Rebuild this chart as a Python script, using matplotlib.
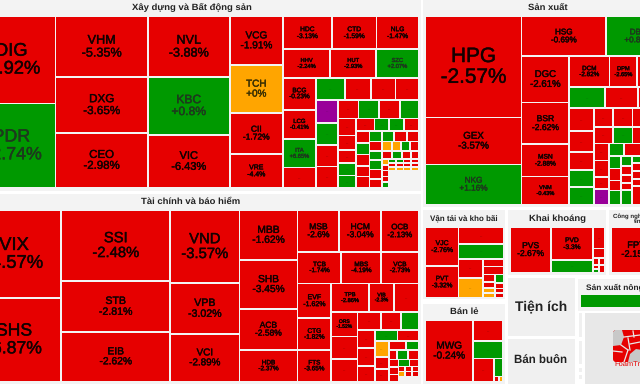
import matplotlib
matplotlib.use('Agg')
import matplotlib.pyplot as plt
import matplotlib.patheffects as pe
from matplotlib.patches import Rectangle, FancyBboxPatch, Polygon

plt.rcParams['font.family'] = ['Liberation Sans', 'DejaVu Sans']
plt.rcParams['text.hinting'] = 'no_hinting'

# Xay dung: nested cell areas, columns then rows in turn
build_tail = [[40, 40, 40, 40, 40],
              [[29, 29, 29, 29], [29, 29, 29, 29], [29, 29, 29, 29], 520]]
build_tail = [[99, 81, 81, 81], [88, 80, 72, 64], build_tail]
build_tail = [[114, 114, 114, 114, 114], build_tail]
build_tail = [[130, 120, 130, 120], build_tail]
build_tail = [[156, 150, 150, 143, 150], build_tail]
build_tail = [[231, 188, 188, 181], build_tail]
build_tail = [[306, 270, 234, 225, 225], build_tail]
build_tail = [[380, 388, 388, 342], build_tail]
build_tail = [[506, 484, 484, 473], build_tail]
build_tail = [[638, 572, 550, 506], build_tail]
build_tail = [[1056, 974, 940, 677], build_tail]
build_sizes = [
    [7700, 7478],
    [5566, 5152, 5060],
    [4961, 4756, 4346],
    [2570, 2544, 2173, 1802],
    [[1592, 1462, 1365], [1354, 1311, 1211], build_tail],
]
build_names = ['DIG', 'PDR', 'VHM', 'DXG', 'CEO', 'NVL', 'KBC', 'VIC', 'VCG', 'TCH', 'CII', 'VRE',
               'HDC', 'CTD', 'NLG', 'HHV', 'HUT', 'SZC', 'BCG', 'LCG', 'ITA']
build_change = [-6.92, 2.74, -5.35, -3.65, -2.98, -3.88, 0.8, -6.43, -1.91, 0, -1.72, -4.4,
                -3.13, -1.59, -1.47, -2.24, -2.93, 2.07, -0.23, -0.41, 6.65]
build_rest = 'r' 'grrr' 'pgrr' 'rgrg' 'rrrgg' 'rggr' 'rgrrr' 'ggrr' 'rggrr' 'oogr' 'rgrr' 'orrrg' 'ggrr' 'rrrr' 'oooo' 'n'

# Tai chinh
fin_tail = [[72, 72, 68], [[77, 63], [33, 33, 34], [33, 33, 34], 100]]
fin_tail = [[153, 110], [72, 99, 99], fin_tail]
fin_tail = [[224, 175, 175], fin_tail]
fin_tail = [[258, 237], fin_tail]
fin_tail = [[306, 306, 272], fin_tail]
fin_tail = [[432, 360, 324], fin_tail]
fin_tail = [[650, 598, 585], fin_tail]
fin_tail = [[1064, 714, 686], fin_tail]
fin_tail = [[1172, 1072, 1055], fin_tail]
fin_sizes = [
    [8225, 7849],
    [7685, 5559, 5396],
    [5002, 3519, 3278],
    [2871, 2842, 2378, 1827],
    [[1722, 1722, 1538], [1386, 1260, 1181], fin_tail],
]
fin_names = ['VIX', 'SHS', 'SSI', 'STB', 'EIB', 'VND', 'VPB', 'VCI', 'MBB', 'SHB', 'ACB', 'HDB',
             'MSB', 'HCM', 'OCB', 'TCB', 'MBS', 'VCB', 'EVF', 'CTG', 'FTS', 'TPB', 'VIB', '...', 'ORS']
fin_change = [-4.57, -6.87, -2.48, -2.81, -2.62, -3.57, -3.02, -2.89, -1.62, -3.45, -2.58, -2.37,
              -2.6, -3.04, -2.13, -1.74, -4.19, -2.73, -1.62, -1.82, -3.65, -2.86, -2.3, None, -1.52]
fin_rest = 'r' 'rr' 'rrg' 'rrr' 'gr' 'orr' 'rg' 'rgr' 'rrr' 'gr' 'rrr' 'orr' 'n'

# San xuat
prod_tail = [[150, 144, 120, 168], [110, 99, 88, 77, 160], [270, 308, 308, 270, 712]]
prod_tail = [[188, 581], prod_tail]
prod_tail = [[255, 240, 180, 232], prod_tail]
prod_tail = [[352, 361, 703], [314, 322, 627], prod_tail]
prod_tail = [[575, 525, 450, 425, 438], prod_tail]
prod_tail = [[1256, 853, 1039], [756, 693, 683], prod_tail]
prod_tail = [[2209, 1971, 1544, 1330], prod_tail]
prod_sizes = [
    [9696, 4512, 3840],
    [[3338, 2548], prod_tail],
]
prod_names = ['HPG', 'GEX', 'NKG', 'HSG', 'DBC', 'DGC', 'BSR', 'MSN', 'VNM', 'DCM', 'DPM']
prod_change = [-2.57, -3.57, 1.16, -0.69, 0.85, -2.61, -2.62, -2.88, -0.43, -2.82, -2.65]
prod_rest = 'r' 'grr' 'rrrgg' 'rrr' 'rgr' 'rrrp' 'gr' 'grrg' 'grrrg' 'grrrr'

# Van tai, ban le, khai khoang and the small groups
trans_sizes = [
    [1270, 1056],
    [743, 653,
     [[468, 480],
      [158, 168,
       [[90, 72, 60, 60], [68, 50, 40, 40]]]]],
]
trans_names = ['VJC', 'PVT']
trans_change = [-2.76, -3.32]
trans_rest = 'rgrorr' 'rroo' 'grrr'

retail_sizes = [
    [2898],
    [615, 525, [483, [162, [25, 20]]]],
]
retail_names = ['MWG']
retail_change = [-0.24]
retail_rest = 'rgrgro'

mine_sizes = [
    [1800],
    [1365, 525],
    [250, 110, [[42, 24, 21], [42, 45]]],
]
mine_names = ['PVS', 'PVD']
mine_change = [-2.67, -3.3]
mine_rest = 'grrrrgrrn'

tech_sizes = [[2475]]
tech_names = ['FPT']
tech_change = [-2.15]
agri_sizes = [[1170]]
agri_rest = 'g'

panel_titles = ['Xây dựng và Bất động sản', 'Tài chính và báo hiểm', 'Sản xuất', 'Vận tải và kho bãi',
                'Bán lẻ', 'Khai khoáng', 'Công nghệ thông\ntin', 'Sản xuất nông nghiệp']

COLORS = {'r': '#e60000', 'g': '#009900', 'o': '#ffa500', 'p': '#990099'}
INK = {'r': '#140000', 'g': '#1d3a1d', 'o': '#3a3000', 'p': '#3a1a3a'}

fig = plt.figure(figsize=(6.4, 3.84), dpi=100, facecolor='white')
ax = fig.add_axes([0, 0, 1, 1])
ax.set_xlim(0, 640)
ax.set_ylim(384, 0)
ax.axis('off')


def total(node):
    if isinstance(node, list):
        return sum(total(n) for n in node)
    return node


def walk(node, x0, y0, x1, y1, across, out):
    if not isinstance(node, list):
        out.append((node, x0, y0, x1, y1))
        return
    tot = total(node)
    pos = x0 if across else y0
    for child in node:
        share = total(child) / tot
        if across:
            nxt = pos + (x1 - x0) * share
            walk(child, pos, y0, nxt, y1, False, out)
        else:
            nxt = pos + (y1 - y0) * share
            walk(child, x0, pos, x1, nxt, True, out)
        pos = nxt


def draw_cells(sizes, box, names, change, rest):
    cells = []
    walk(sizes, box[0], box[1], box[2], box[3], True, cells)
    k = 0
    for i, (a, x0, y0, x1, y1) in enumerate(cells):
        if i < len(names) and names[i] != '...':
            v = change[i]
            c = 'o' if v == 0 else ('r' if v < 0 else 'g')
            label = names[i] + '\n' + f'{v:+g}%'
        else:
            c = rest[k] if k < len(rest) else 'n'
            k += 1
            label = '...'
        if c == 'n':
            continue
        w, h = x1 - x0 - 1.7, y1 - y0 - 1.7
        ax.add_patch(Rectangle((x0 + 0.85, y0 + 0.85), w, h, fc=COLORS[c], ec='none'))
        fs = min(0.215 * h, 0.22 * w) * 0.72
        if label == '...':
            if w * h > 130:
                ax.text((x0 + x1) / 2, (y0 + y1) / 2, '...', fontsize=max(fs * 0.7, 3), color=INK[c],
                        alpha=0.7, ha='center', va='center')
        else:
            ax.text((x0 + x1) / 2, (y0 + y1) / 2, label, fontsize=fs, color=INK[c], ha='center',
                    va='center', linespacing=1.08,
                    path_effects=[pe.withStroke(linewidth=0.3, foreground=INK[c])])


def panel(x0, y0, x1, y1, fc='#f3f3f3'):
    ax.add_patch(Rectangle((x0, y0), x1 - x0, y1 - y0, fc=fc, ec='none'))


panel(-37, 0, 421, 191)
panel(-37, 194, 421, 384)
panel(423, 0, 673, 207)
panel(423, 210, 505, 299)
panel(423, 304, 505, 384)
panel(508, 210, 606, 275)
panel(609, 210, 669, 275)
panel(508, 278, 575, 336, '#f0f0f0')
panel(508, 339, 575, 384, '#f0f0f0')
panel(578, 279, 673, 311)
panel(579, 313, 582, 337, '#f0f0f0')
panel(579, 341, 582, 364, '#f0f0f0')
panel(579, 368, 582, 372, '#f0f0f0')
panel(579, 375, 582, 379, '#f0f0f0')
panel(585, 313, 673, 384, '#e8e8e8')

draw_cells(build_sizes, (-33, 16.5, 418.5, 188), build_names, build_change, build_rest)
draw_cells(fin_sizes, (-33, 210.5, 418.5, 381.5), fin_names, fin_change, fin_rest)
draw_cells(prod_sizes, (425.5, 16.5, 670.5, 204.5), prod_names, prod_change, prod_rest)
draw_cells(trans_sizes, (425.5, 227.5, 503.5, 298), trans_names, trans_change, trans_rest)
draw_cells(retail_sizes, (425.5, 320.5, 503, 381.5), retail_names, retail_change, retail_rest)
draw_cells(mine_sizes, (510.5, 227.5, 605, 272.5), mine_names, mine_change, mine_rest)
draw_cells(tech_sizes, (611.5, 227.5, 660.5, 272.5), tech_names, tech_change, '')
draw_cells(agri_sizes, (580.5, 294.5, 670.5, 307.5), [], [], agri_rest)

# group titles
title_pos = [(192, 8), (191, 202), (548, 9), (464, 219), (464, 312), (557, 219), (638, 219), (630, 287)]
title_fs = [6.8, 6.8, 6.8, 5.8, 6.8, 6.8, 4.4, 6]
for t, (tx, ty), tfs in zip(panel_titles, title_pos, title_fs):
    ax.text(tx, ty, t, fontsize=tfs, fontweight='bold', color='#222222', ha='center', va='center', linespacing=1.0)
ax.text(541, 307, 'Tiện ích', fontsize=10, fontweight='bold', color='#222222', ha='center', va='center')
ax.text(541, 361, 'Bán buôn', fontsize=8.3, fontweight='bold', color='#222222', ha='center', va='center')

# FoamTree logo in the corner
ax.add_patch(FancyBboxPatch((613, 330), 60, 32, boxstyle='round,pad=0,rounding_size=3', fc='#e60000', ec='none'))
logo_gray = [
    [(613, 332), (615, 330), (622, 330), (624, 337), (621, 345), (613, 346)],
    [(630, 354), (636, 349), (642, 350), (642, 362), (628, 362)],
]
logo_lines = [
    [(624, 337), (640, 335)], [(621, 345), (628, 350)], [(628, 338), (630, 350)],
    [(613, 351), (622, 352)], [(628, 350), (624, 362)], [(633, 331), (634, 337)],
    [(630, 344), (640, 342)],
]
for p in logo_gray:
    ax.add_patch(Polygon(p, closed=True, fc='#c8c8c8', ec='none'))
for ln in logo_lines:
    ax.plot([ln[0][0], ln[1][0]], [ln[0][1], ln[1][1]], color='#e8e8e8', lw=0.9)
ax.text(614, 364, 'FoamTree', fontsize=5.4, color='#e60000', ha='left', va='center')

fig.savefig('out.png', dpi=100)
